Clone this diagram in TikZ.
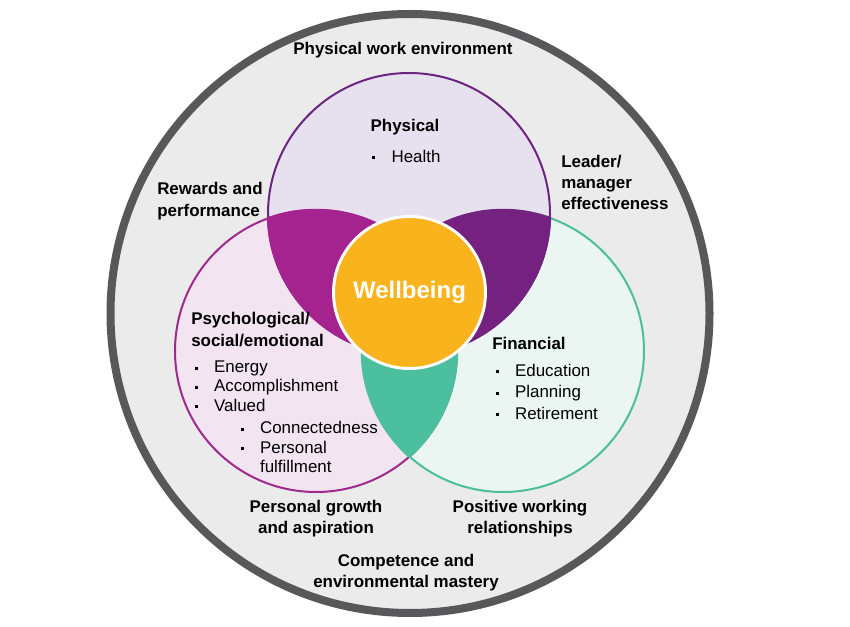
\documentclass[tikz,border=0pt]{standalone}
\usepackage{fontspec}
\setmainfont{Liberation Sans}
\definecolor{ringgray}{HTML}{EBEBEB}
\definecolor{ringline}{HTML}{58585A}
\definecolor{physfill}{HTML}{E7E0EE}
\definecolor{physline}{HTML}{6B2480}
\definecolor{psyfill}{HTML}{F3E4F1}
\definecolor{psyline}{HTML}{9E2A8C}
\definecolor{finfill}{HTML}{EBF6F3}
\definecolor{finline}{HTML}{4CBD9D}
\definecolor{lensmag}{HTML}{A5238F}
\definecolor{lenspur}{HTML}{74217F}
\definecolor{lensteal}{HTML}{4CBF9E}
\definecolor{wellgold}{HTML}{F9B31C}
\newcommand{\sq}{\rule[0.3ex]{2.2pt}{2.2pt}}
\newcommand{\itm}[1]{\makebox[14.5pt][l]{\sq}#1}
\newcommand{\noitm}[1]{\makebox[14.5pt][l]{}#1}
\tikzset{
  head/.style={font=\fontsize{12.7}{16}\selectfont\bfseries,inner sep=0pt},
  items/.style={font=\fontsize{12.7}{14.5}\selectfont,inner sep=0pt,align=left,anchor=west},
  ring/.style={line width=1.5pt}
}
\begin{document}
\begin{tikzpicture}[x=0.75pt,y=-0.75pt]
	\useasboundingbox(0,0)rectangle(850,627);
	\coordinate(ctop)at(409,214);
	\coordinate(cleft)at(316,351);
	\coordinate(cright)at(503,351);
	\filldraw[fill=ringgray,draw=ringline,line width=6pt](410,313.5)circle(299.5);
	\fill[physfill](ctop)circle(141);
	\fill[psyfill](cleft)circle(141);
	\fill[finfill](cright)circle(141);
	\draw[ring,physline](ctop)circle(141);
	\draw[ring,psyline](cleft)circle(141);
	\draw[ring,finline](cright)circle(141);
	\begin{scope}
		\clip(ctop)circle(142.2);
		\fill[lensmag](cleft)circle(142.2);
	\end{scope}
	\begin{scope}
		\clip(ctop)circle(142.2);
		\fill[lenspur](cright)circle(142.2);
	\end{scope}
	\begin{scope}
		\clip(cleft)circle(142.2);
		\fill[lensteal](cright)circle(142.2);
	\end{scope}
	\node[circle,fill=wellgold,draw=white,line width=2.2pt,minimum size=114pt,font=\fontsize{18}{20}\selectfont\bfseries,text=white](wb)at(409.5,292.5){Wellbeing};
	\node[head](physenv)at(403,50){Physical work environment};
	\node[head](physical)at(405,127){Physical};
	\node[items](health)at(372,156){\itm{Health}};
	\node[head,align=left,anchor=west](rewards)at(157,201){Rewards and\\performance};
	\node[head,align=left,anchor=west](leader)at(561,182.5){Leader/\\manager\\effectiveness};
	\node[head,align=left,anchor=west](psych)at(191,329.5){Psychological/\\social/emotional};
	\node[items](psychlist)at(194.5,386){\itm{Energy}\\\itm{Accomplishment}\\\itm{Valued}};
	\node[items](sublist)at(240.5,447){\itm{Connectedness}\\\itm{Personal}\\\noitm{fulfillment}};
	\node[head,anchor=west](financial)at(492,343){Financial};
	\node[items,font=\fontsize{12.7}{16.1}\selectfont](finlist)at(495.5,391.5){\itm{Education}\\\itm{Planning}\\\itm{Retirement}};
	\node[head,align=center](growth)at(316,518.5){Personal growth\\and aspiration};
	\node[head,align=center](positive)at(520,518.5){Positive working\\relationships};
	\node[head,align=center](competence)at(406,572.5){Competence and\\environmental mastery};
\end{tikzpicture}
\end{document}
